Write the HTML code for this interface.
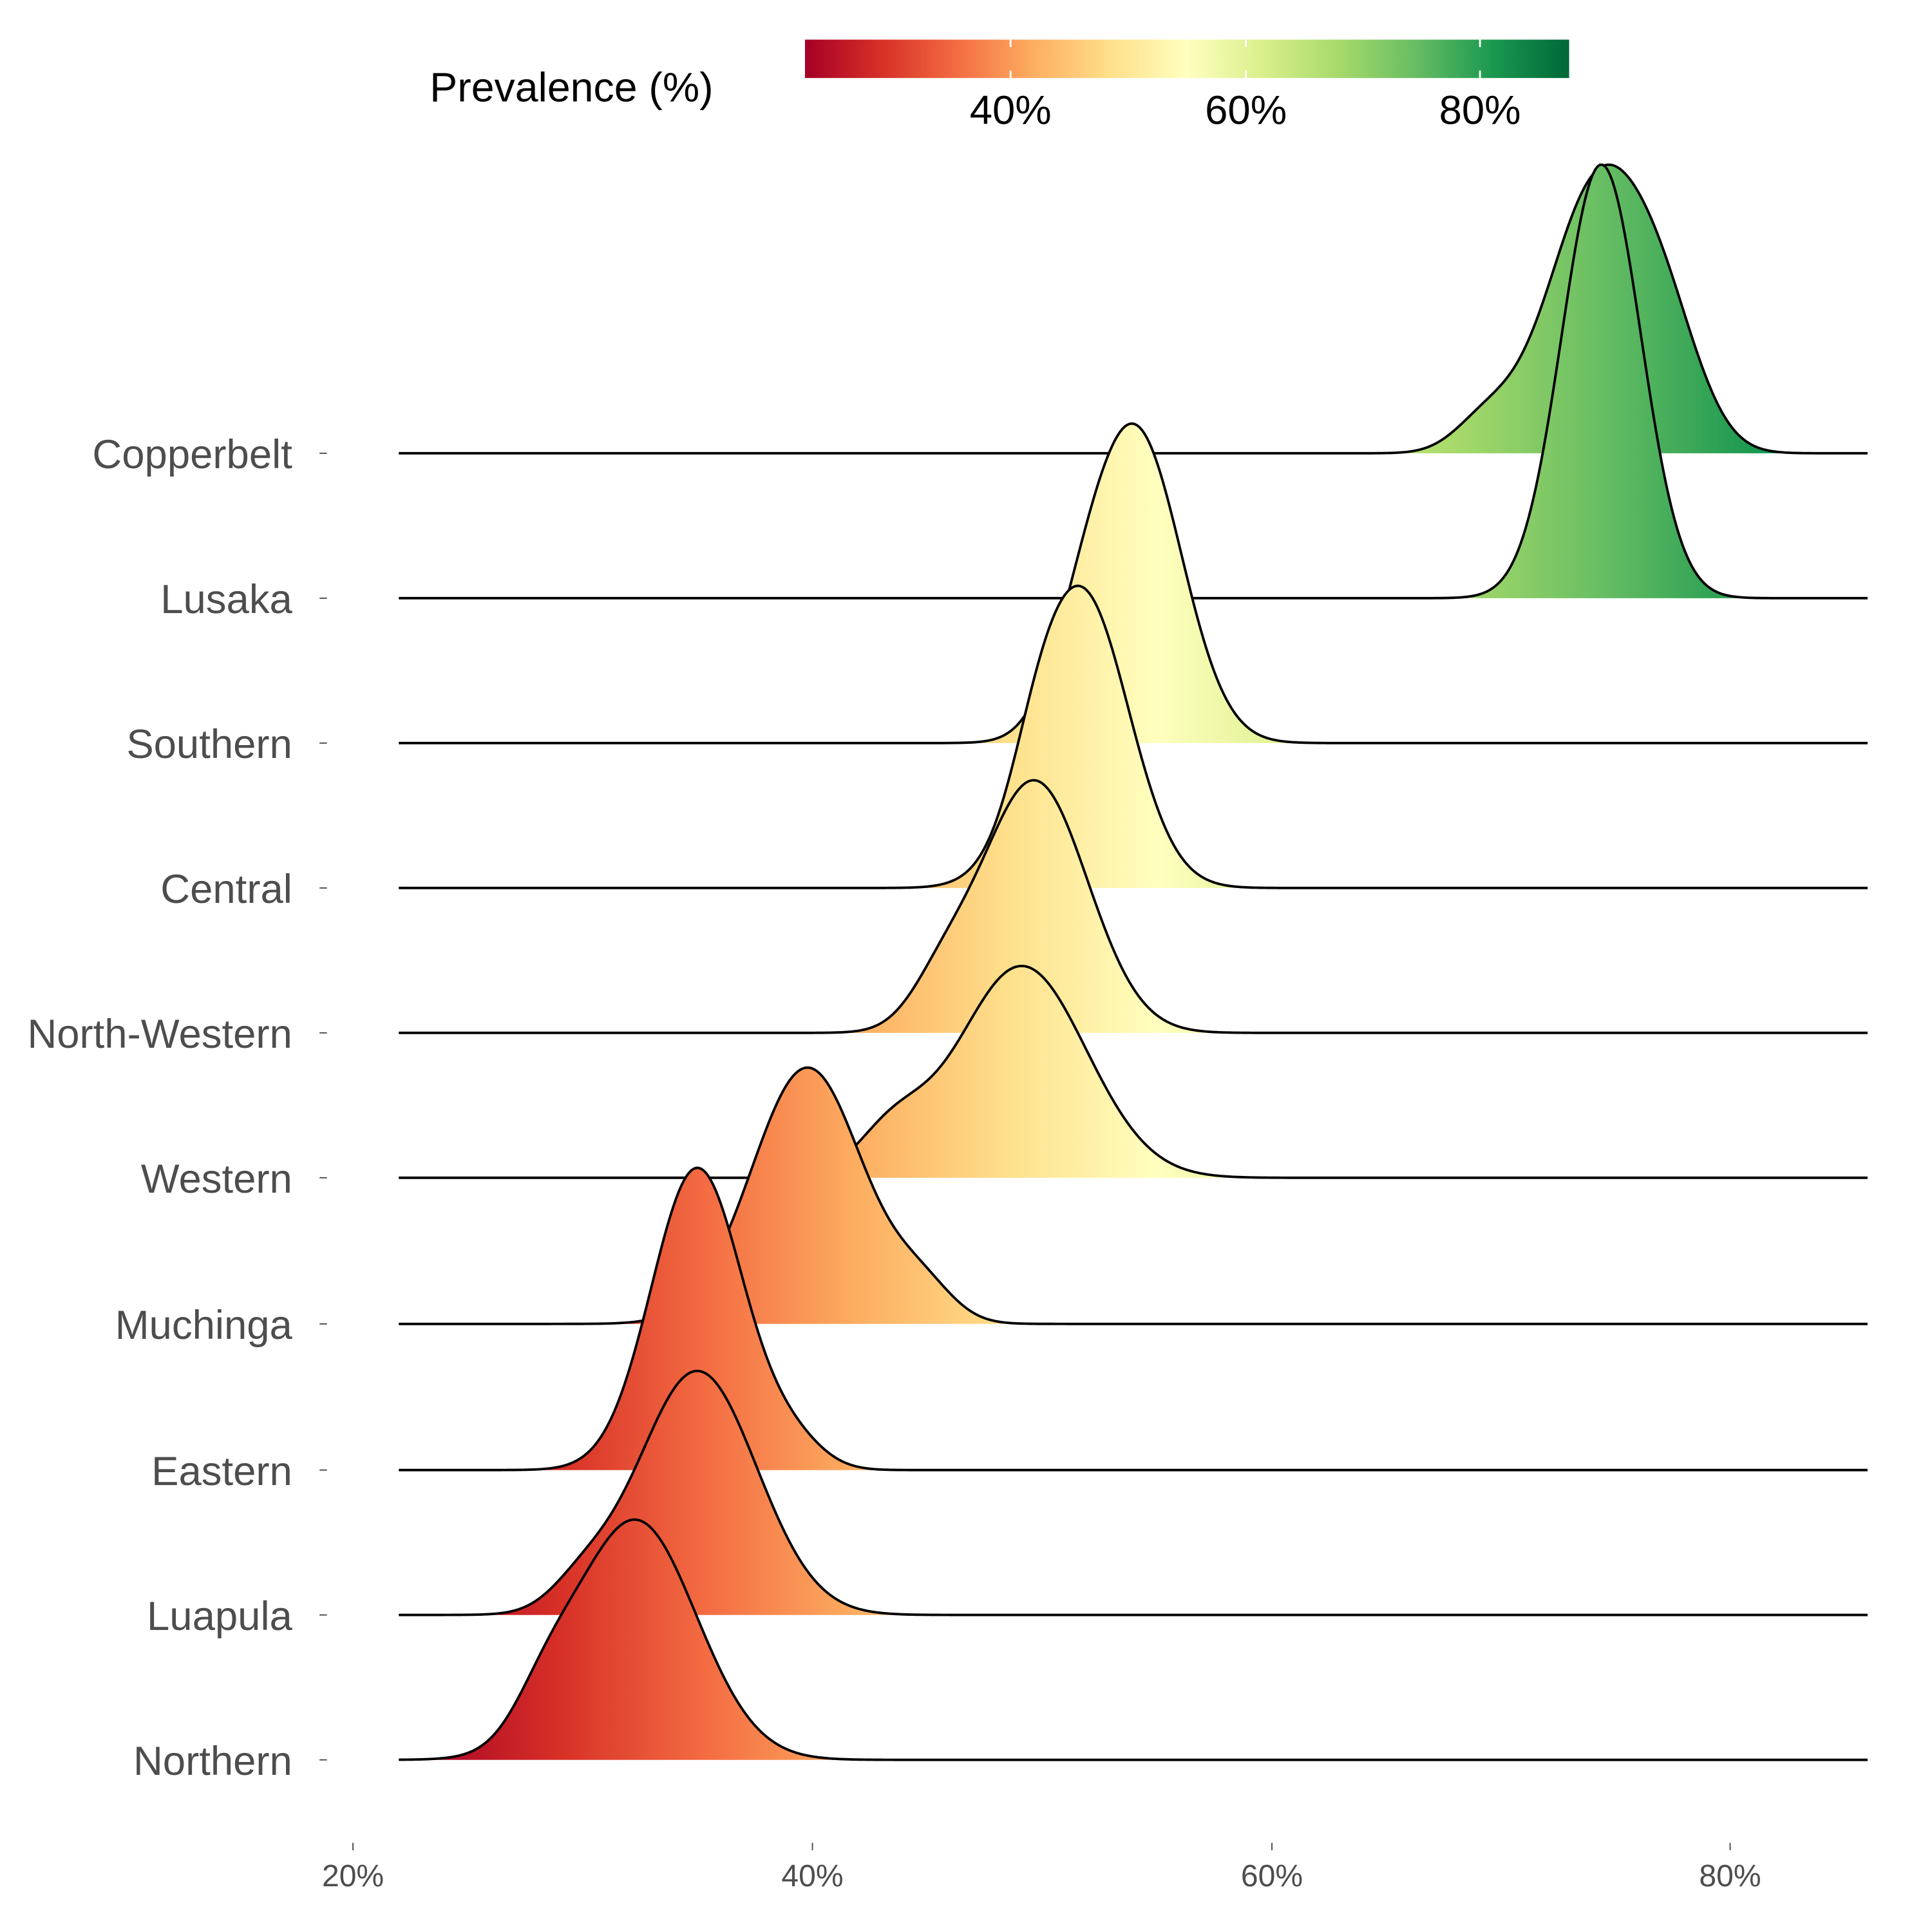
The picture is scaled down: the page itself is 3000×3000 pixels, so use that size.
<!DOCTYPE html>
<html><head><meta charset="utf-8"><style>
html,body{margin:0;padding:0;background:#fff}
svg{display:block}
text{font-family:"Liberation Sans",Arial,sans-serif}
</style></head><body>
<svg id="s" width="3000" height="3000" viewBox="0 0 1560 1560" xmlns="http://www.w3.org/2000/svg">
<defs>
<linearGradient id="g" gradientUnits="userSpaceOnUse" x1="331" y1="0" x2="1538" y2="0">
<stop offset="0" stop-color="#a50026"/><stop offset="0.1" stop-color="#d73027"/><stop offset="0.2" stop-color="#f46d43"/><stop offset="0.3" stop-color="#fdae61"/><stop offset="0.4" stop-color="#fee08b"/><stop offset="0.5" stop-color="#ffffbf"/><stop offset="0.6" stop-color="#d9ef8b"/><stop offset="0.7" stop-color="#a6d96a"/><stop offset="0.8" stop-color="#66bd63"/><stop offset="0.9" stop-color="#1a9850"/><stop offset="1" stop-color="#006837"/>
</linearGradient>
<linearGradient id="lg" x1="0" y1="0" x2="1" y2="0">
<stop offset="0" stop-color="#a50026"/><stop offset="0.1" stop-color="#d73027"/><stop offset="0.2" stop-color="#f46d43"/><stop offset="0.3" stop-color="#fdae61"/><stop offset="0.4" stop-color="#fee08b"/><stop offset="0.5" stop-color="#ffffbf"/><stop offset="0.6" stop-color="#d9ef8b"/><stop offset="0.7" stop-color="#a6d96a"/><stop offset="0.8" stop-color="#66bd63"/><stop offset="0.9" stop-color="#1a9850"/><stop offset="1" stop-color="#006837"/>
</linearGradient>
</defs>
<rect x="650" y="32" width="617" height="31" fill="url(#lg)"/>
<g stroke="#fff" stroke-width="1.5"><line x1="816" y1="32" x2="816" y2="38"/><line x1="816" y1="57" x2="816" y2="63"/><line x1="1006" y1="32" x2="1006" y2="38"/><line x1="1006" y1="57" x2="1006" y2="63"/><line x1="1195" y1="32" x2="1195" y2="38"/><line x1="1195" y1="57" x2="1195" y2="63"/></g>
<text x="347" y="82" font-size="33.5" fill="#000">Prevalence (%)</text>
<g font-size="33" fill="#000" text-anchor="middle"><text x="816" y="100">40%</text><text x="1006" y="100">60%</text><text x="1195" y="100">80%</text></g>
<g id="ridges"></g>
<g font-size="33" fill="#4d4d4d" text-anchor="end" id="labels"></g>
<g font-size="25" fill="#4d4d4d" text-anchor="middle">
<text x="285" y="1523">20%</text><text x="656" y="1523">40%</text><text x="1027" y="1523">60%</text><text x="1397" y="1523">80%</text>
</g>
<g stroke="#4d4d4d" stroke-width="1"><line x1="285" y1="1488" x2="285" y2="1494"/><line x1="656" y1="1488" x2="656" y2="1494"/><line x1="1027" y1="1488" x2="1027" y2="1494"/><line x1="1397" y1="1488" x2="1397" y2="1494"/></g>
</svg>
<script>
var data=[
["Copperbelt",366,[[1290,40,1],[1200,25,0.12],[1345,30,0.35]],233],
["Lusaka",483,[[1293,32,1]],350],
["Southern",600,[[917,37,1],[870,25,0.15]],258],
["Central",717,[[873,38,1],[835,20,0.1]],244],
["North-Western",834,[[835,43,1],[760,25,0.15]],204],
["Western",951,[[825,52,1],[720,28,0.2]],171],
["Muchinga",1069,[[652,45,1],[745,25,0.12]],207],
["Eastern",1187,[[563,37,1],[640,25,0.08]],244],
["Luapula",1304,[[563,48,1],[470,25,0.1]],197],
["Northern",1421,[[513,49,1],[440,25,0.15]],194]];
var R=document.getElementById('ridges'),L=document.getElementById('labels'),ns="http://www.w3.org/2000/svg";
data.forEach(function(d){
 var pts=[],mx=0;
 for(var x=322;x<=1508;x+=2){var v=0;d[2].forEach(function(c){v+=c[2]*Math.exp(-0.5*Math.pow((x-c[0])/c[1],2));});pts.push([x,v]);if(v>mx)mx=v;}
 var s="M"+pts.map(function(p){return p[0]+","+(d[1]-p[1]/mx*d[3]).toFixed(2);}).join("L");
 var f=document.createElementNS(ns,"path");f.setAttribute("d",s+"L1508,"+d[1]+"L322,"+d[1]+"Z");f.setAttribute("fill","url(#g)");R.appendChild(f);
 var l=document.createElementNS(ns,"path");l.setAttribute("d",s);l.setAttribute("fill","none");l.setAttribute("stroke","#000");l.setAttribute("stroke-width","2");R.appendChild(l);
 var t=document.createElementNS(ns,"text");t.setAttribute("x","236");t.setAttribute("y",d[1]+12);t.textContent=d[0];L.appendChild(t);
 var k=document.createElementNS(ns,"line");k.setAttribute("x1","258");k.setAttribute("x2","264");k.setAttribute("y1",d[1]);k.setAttribute("y2",d[1]);k.setAttribute("stroke","#4d4d4d");R.appendChild(k);
});
</script>
</body></html>
